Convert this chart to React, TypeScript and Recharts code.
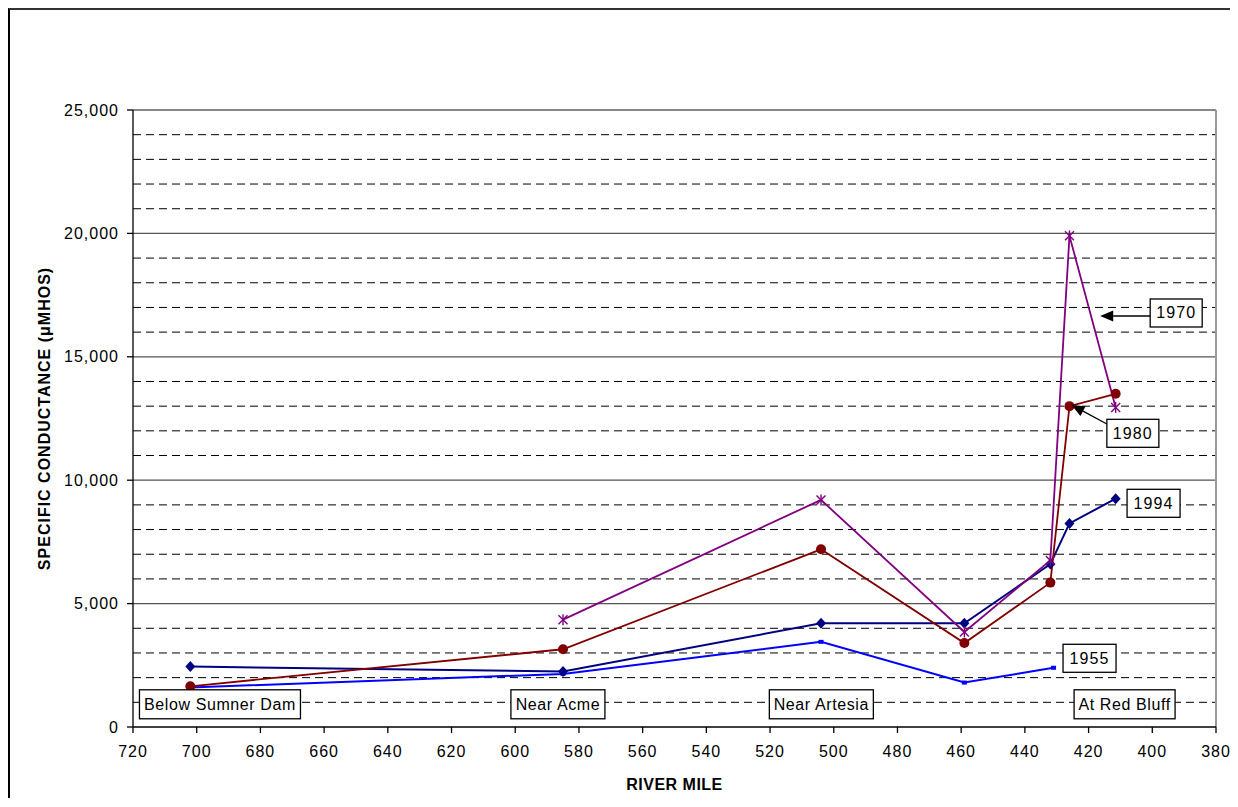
import React from 'react';
import { LineChart, Line, XAxis, YAxis, ReferenceLine, ReferenceDot } from 'recharts';

// ---- data ----
const miles1994 = [702, 585, 504, 459, 432, 426, 411.5];
const values1994 = [2450, 2250, 4200, 4200, 6600, 8250, 9250];

const miles1980 = [702, 585, 504, 459, 432, 426, 411.5];
const values1980 = [1650, 3150, 7200, 3400, 5850, 13000, 13500];

const miles1970 = [585, 504, 459, 432, 426, 411.5];
const values1970 = [4350, 9200, 3850, 6750, 19900, 12950];

const miles1955 = [702, 585, 504, 459, 431];
const values1955 = [1600, 2150, 3450, 1800, 2400];

const xTicks = [720, 700, 680, 660, 640, 620, 600, 580, 560, 540, 520, 500, 480, 460, 440, 420, 400, 380];
const yTicks = [0, 5000, 10000, 15000, 20000, 25000];
const majorGrid = [5000, 10000, 15000, 20000];
const minorGrid = [1000, 2000, 3000, 4000, 6000, 7000, 8000, 9000, 11000, 12000, 13000, 14000, 16000, 17000, 18000, 19000, 21000, 22000, 23000, 24000];

// station labels
const stationNames = ['Below Sumner Dam', 'Near Acme', 'Near Artesia', 'At Red Bluff'];
const stationMiles = [692.7, 586.6, 503.9, 408.7];
const stationValues = [920, 920, 920, 920];
const stationWidths = [161, 94, 104, 101];

// year labels
const yearNames = ['1955', '1994', '1970', '1980'];
const yearMiles = [419.7, 399.6, 392.5, 406.1];
const yearValues = [2784, 9064, 16775, 11900];

const toRows = (m: number[], v: number[]) => m.map((mile, i) => ({ mile, value: v[i] }));
const data1994 = toRows(miles1994, values1994);
const data1980 = toRows(miles1980, values1980);
const data1970 = toRows(miles1970, values1970);
const data1955 = toRows(miles1955, values1955);

const FONT = '"Liberation Sans", Arial, Helvetica, sans-serif';

const Diamond = (p: any) => {
  const { cx, cy } = p;
  if (cx == null || cy == null) return <g />;
  return <polygon points={`${cx},${cy - 5.5} ${cx + 5},${cy} ${cx},${cy + 5.5} ${cx - 5},${cy}`} fill="#000080" />;
};
const Dot80 = (p: any) => {
  const { cx, cy } = p;
  if (cx == null || cy == null) return <g />;
  return <circle cx={cx} cy={cy} r={5} fill="#800000" />;
};
const Star = (p: any) => {
  const { cx, cy } = p;
  if (cx == null || cy == null) return <g />;
  const s = 4.5;
  return (
    <g stroke="#800080" strokeWidth={1.4}>
      <line x1={cx - s} y1={cy - s} x2={cx + s} y2={cy + s} />
      <line x1={cx - s} y1={cy + s} x2={cx + s} y2={cy - s} />
      <line x1={cx} y1={cy - 5.5} x2={cx} y2={cy + 5.5} />
    </g>
  );
};
const Square = (p: any) => {
  const { cx, cy } = p;
  if (cx == null || cy == null) return <g />;
  return <rect x={cx - 2.5} y={cy - 2} width={5} height={4} fill="#0000FF" />;
};

const Box = ({ cx, cy, w, h, text, ls }: any) => (
  <g>
    <rect x={cx - w / 2} y={cy - h / 2} width={w} height={h} fill="#fff" stroke="#000" strokeWidth={1.3} />
    <text
      x={cx}
      y={cy}
      textAnchor="middle"
      dominantBaseline="central"
      fontFamily={FONT}
      fontSize={16}
      letterSpacing={ls}
      fill="#000"
    >
      {text}
    </text>
  </g>
);

const Arrow = ({ x1, y1, x2, y2 }: any) => {
  const dx = x2 - x1;
  const dy = y2 - y1;
  const len = Math.sqrt(dx * dx + dy * dy);
  const ux = dx / len;
  const uy = dy / len;
  const bx = x2 - ux * 13;
  const by = y2 - uy * 13;
  const nx = -uy * 5.5;
  const ny = ux * 5.5;
  return (
    <g>
      <line x1={x1} y1={y1} x2={bx} y2={by} stroke="#000" strokeWidth={1.3} />
      <polygon points={`${x2},${y2} ${bx + nx},${by + ny} ${bx - nx},${by - ny}`} fill="#000" />
    </g>
  );
};

const YearBox = (p: any) => {
  const { cx, cy, text } = p;
  if (cx == null || cy == null) return <g />;
  const w = text === '1955' || text === '1994' ? 53 : 52;
  return (
    <g>
      {text === '1970' && <Arrow x1={cx - 26} y1={cy + 3} x2={cx - 76} y2={cy + 3} />}
      {text === '1980' && <Arrow x1={cx - 26} y1={cy - 9.3} x2={cx - 61.3} y2={cy - 28.3} />}
      <Box cx={cx} cy={cy} w={w} h={28} text={text} ls={1.1} />
    </g>
  );
};

const tickStyle = { fontFamily: FONT, fontSize: 16, fill: '#000', letterSpacing: 1 };

const YTitle = (props: any) => {
  const vb = props.viewBox || { x: 0, y: 0, width: 0, height: 0 };
  const x = vb.x + 34;
  const y = vb.y + vb.height / 2;
  return (
    <text
      x={x}
      y={y}
      transform={`rotate(-90, ${x}, ${y})`}
      textAnchor="middle"
      dominantBaseline="central"
      fontFamily={FONT}
      fontWeight="bold"
      fontSize={16}
      letterSpacing={1}
      fill="#000"
    >
      SPECIFIC CONDUCTANCE (μMHOS)
    </text>
  );
};

const XTitle = (props: any) => {
  const vb = props.viewBox || { x: 0, y: 0, width: 0, height: 0 };
  const x = vb.x + vb.width / 2;
  const y = vb.y + 57;
  return (
    <text
      x={x}
      y={y}
      textAnchor="middle"
      dominantBaseline="central"
      fontFamily={FONT}
      fontWeight="bold"
      fontSize={16}
      letterSpacing={0.5}
      fill="#000"
    >
      RIVER MILE
    </text>
  );
};

export default function App() {
  return (
    <div
      style={{
        width: 1228,
        height: 790,
        boxSizing: 'border-box',
        borderTop: '2px solid #333',
        borderLeft: '2px solid #000',
        background: '#fff',
        overflow: 'hidden',
      }}
    >
      <LineChart width={1226} height={788} margin={{ top: 100, right: 20, bottom: 0, left: 0 }}>
        <XAxis
          type="number"
          dataKey="mile"
          domain={[380, 720]}
          reversed
          ticks={xTicks}
          interval={0}
          height={71}
          tickSize={6}
          tickMargin={13}
          tick={tickStyle}
          axisLine={{ stroke: '#000', strokeWidth: 1.3 }}
          tickLine={{ stroke: '#000', strokeWidth: 1.3 }}
          label={{ content: (p: any) => <XTitle {...p} /> }}
          allowDataOverflow
        />
        <YAxis
          type="number"
          domain={[0, 25000]}
          ticks={yTicks}
          interval={0}
          width={123}
          tickSize={6}
          tickMargin={8}
          tick={tickStyle}
          tickFormatter={(v: number) => v.toLocaleString('en-US')}
          axisLine={{ stroke: '#000', strokeWidth: 1.3 }}
          tickLine={{ stroke: '#000', strokeWidth: 1.3 }}
          label={{ content: (p: any) => <YTitle {...p} /> }}
          allowDataOverflow
        />
        {minorGrid.map((v) => (
          <ReferenceLine key={`mn-${v}`} y={v} stroke="#000" strokeWidth={1} strokeDasharray="8 5" />
        ))}
        {majorGrid.map((v) => (
          <ReferenceLine key={`mj-${v}`} y={v} stroke="#555" strokeWidth={1.2} />
        ))}
        <ReferenceLine y={25000} stroke="#888" strokeWidth={2} />
        <ReferenceLine x={380} stroke="#999" strokeWidth={2} />

        <Line
          data={data1955}
          dataKey="value"
          type="linear"
          stroke="#0000FF"
          strokeWidth={2}
          dot={(p: any) => <Square key={`s55-${p.index}`} {...p} />}
          activeDot={false}
          isAnimationActive={false}
        />
        <Line
          data={data1994}
          dataKey="value"
          type="linear"
          stroke="#000080"
          strokeWidth={2}
          dot={(p: any) => <Diamond key={`d94-${p.index}`} {...p} />}
          activeDot={false}
          isAnimationActive={false}
        />
        <Line
          data={data1980}
          dataKey="value"
          type="linear"
          stroke="#800000"
          strokeWidth={1.8}
          dot={(p: any) => <Dot80 key={`c80-${p.index}`} {...p} />}
          activeDot={false}
          isAnimationActive={false}
        />
        <Line
          data={data1970}
          dataKey="value"
          type="linear"
          stroke="#800080"
          strokeWidth={1.8}
          dot={(p: any) => <Star key={`x70-${p.index}`} {...p} />}
          activeDot={false}
          isAnimationActive={false}
        />

        {stationNames.map((name, i) => (
          <ReferenceDot
            key={`st-${name}`}
            x={stationMiles[i]}
            y={stationValues[i]}
            r={0}
            ifOverflow="visible"
            shape={(p: any) =>
              p.cx == null ? <g /> : <Box cx={p.cx} cy={p.cy} w={stationWidths[i]} h={29} text={name} ls={0.6} />
            }
          />
        ))}
        {yearNames.map((name, i) => (
          <ReferenceDot
            key={`yr-${name}`}
            x={yearMiles[i]}
            y={yearValues[i]}
            r={0}
            ifOverflow="visible"
            shape={(p: any) => <YearBox cx={p.cx} cy={p.cy} text={name} />}
          />
        ))}
      </LineChart>
    </div>
  );
}
